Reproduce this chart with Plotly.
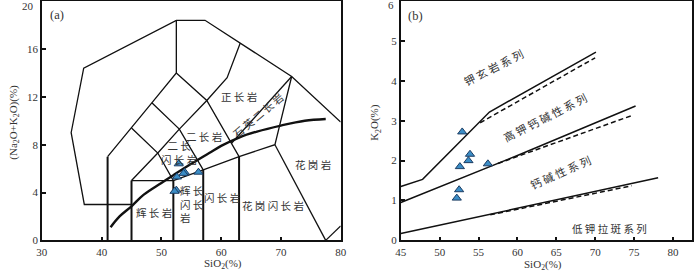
import plotly.graph_objects as go

# ---------------- data: panel (a) TAS plutonic (Middlemost) ----------------
outer_x = [45, 37.1, 34.9, 37.0, 52.5, 57.3, 71.8, 80.0]
outer_y = [3.0, 3.0, 9.0, 14.4, 18.4, 18.4, 13.7, 9.9]
outer2_x = [77.5, 80.0]
outer2_y = [0.0, 1.2]

v41_x, v41_y = [41, 41], [0, 7.0]
v45_x, v45_y = [45, 45], [0, 5.0]
v52_x, v52_y = [52, 52], [0, 5.0]
v57_x, v57_y = [57, 57], [0, 5.9]
v63_x, v63_y = [63, 63], [0, 7.0]

base_x = [45, 52, 57, 63, 69, 71.8]
base_y = [5.0, 5.0, 5.9, 7.0, 8.0, 13.7]
granite_x = [69, 77.5]
granite_y = [8.0, 0.0]
left_x = [41, 45, 48.4, 52.5, 52.5]
left_y = [7.0, 9.4, 11.5, 14.0, 18.4]
mg_x = [45, 49.4, 52]
mg_y = [9.4, 7.3, 5.0]
mid_x = [45, 49.4, 53, 57.6, 61.0, 63.2]
mid_y = [5.0, 7.3, 9.3, 11.7, 13.6, 16.5]
syen_x = [52.5, 57.6, 63]
syen_y = [14.0, 11.7, 7.0]
md_x = [48.4, 53, 57]
md_y = [11.5, 9.3, 5.9]
qm_x = [61.7, 71.8]
qm_y = [8.1, 13.7]

curve_x = [41.5, 43, 45, 47, 50, 52, 55, 58, 60, 63, 66, 70, 74, 77.5]
curve_y = [1.1, 2.0, 2.85, 3.8, 4.8, 5.45, 6.4, 7.3, 7.9, 8.6, 9.1, 9.6, 10.0, 10.15]

# samples
sio2 = [52.9, 53.9, 53.7, 52.6, 56.2, 52.5, 52.2]
alk = [6.4, 5.7, 5.6, 5.3, 5.7, 4.2, 4.1]
k2o = [2.72, 2.16, 2.00, 1.85, 1.92, 1.27, 1.06]

# ---------------- data: panel (b) K2O-SiO2 ----------------
sho_x, sho_y = [45, 47.8, 56.4, 70.1], [1.35, 1.53, 3.22, 4.72]
hk_x, hk_y = [45, 60, 75.2], [0.95, 2.13, 3.37]
lk_x, lk_y = [45, 78.1], [0.17, 1.57]
d1_x, d1_y = [55.2, 70.0], [2.95, 4.58]
d2_x, d2_y = [57.5, 74.7], [1.93, 3.13]
d3_x, d3_y = [56.5, 74.7], [0.64, 1.37]

ax_a_xticks = [30, 40, 50, 60, 70, 80]
ax_a_yticks = [0, 4, 8, 12, 16]
ax_a_ytop = "20"
ax_b_xticks = [45, 50, 55, 60, 65, 70, 75, 80]
ax_b_yticks = [0, 1, 2, 3, 4, 5]
ax_b_ytop = "6"

SERIF = "Liberation Serif"
CJK = "Noto Sans CJK SC"
TXT = "#333333"

fig = go.Figure()


def line(x, y, xa="x", ya="y", w=1.3, dash="solid", shape="linear"):
    fig.add_trace(go.Scatter(x=x, y=y, mode="lines", xaxis=xa, yaxis=ya,
                             line=dict(color="#111111", width=w, dash=dash, shape=shape),
                             hoverinfo="skip", showlegend=False))


# panel (a)
for xs, ys in [(outer_x, outer_y), (outer2_x, outer2_y), (base_x, base_y),
               (granite_x, granite_y), (left_x, left_y), (mg_x, mg_y), (mid_x, mid_y),
               (syen_x, syen_y), (md_x, md_y), (qm_x, qm_y)]:
    line(xs, ys)
for xs, ys in [(v41_x, v41_y), (v45_x, v45_y), (v52_x, v52_y), (v57_x, v57_y), (v63_x, v63_y)]:
    line(xs, ys, w=2.0)
line(curve_x, curve_y, w=2.4, shape="spline")

marker = dict(symbol="triangle-up", size=8, color="#3b8dc6",
              line=dict(color="#1c3d63", width=1))
fig.add_trace(go.Scatter(x=sio2, y=alk, mode="markers", marker=marker,
                         xaxis="x", yaxis="y", showlegend=False))

# panel (b)
for xs, ys in [(sho_x, sho_y), (hk_x, hk_y), (lk_x, lk_y)]:
    line(xs, ys, "x2", "y2", w=1.5)
for xs, ys in [(d1_x, d1_y), (d2_x, d2_y), (d3_x, d3_y)]:
    line(xs, ys, "x2", "y2", w=1.5, dash="5px,3px")
fig.add_trace(go.Scatter(x=sio2, y=k2o, mode="markers", marker=marker,
                         xaxis="x2", yaxis="y2", showlegend=False))

ann = []


def label(text, x, y, xr="x", yr="y", size=10.5, angle=0, font=CJK, xanchor="center", align="center"):
    ann.append(dict(text=text, x=x, y=y, xref=xr, yref=yr, showarrow=False,
                    textangle=angle, xanchor=xanchor, yanchor="middle", align=align,
                    font=dict(family=font, size=size, color=TXT)))


label("(a)", 32.5, 18.86, font=SERIF, size=12.5)
label("正 长 岩", 63.0, 12.0)
label("石 英 二 长 岩", 66.1, 10.45, angle=-40)
label("二 长 岩", 57.2, 8.72)
label("二 长<br>闪 长 岩", 52.94, 7.33)
label("辉 长 岩", 48.83, 2.37)
label("辉 长<br>闪 长<br>岩", 52.75, 3.04, xanchor="left", align="left")
label("闪 长 岩", 60.2, 3.6)
label("花 岗 闪 长 岩", 68.73, 2.94)
label("花 岗 岩", 75.36, 6.33)

label("(b)", 46.9, 5.64, "x2", "y2", font=SERIF, size=12.5)
label("钾 玄 岩 系 列", 56.95, 4.35, "x2", "y2", size=11, angle=-27)
label("高 钾 钙 碱 性 系 列", 63.55, 3.09, "x2", "y2", size=11, angle=-27)
label("钙 碱 性 系 列", 65.54, 1.71, "x2", "y2", size=11, angle=-24)
label("低 钾 拉 斑 系 列", 71.83, 0.30, "x2", "y2", size=10.5)

# axis titles and top tick labels
tfont = dict(family=SERIF, size=11, color=TXT)


def ptitle(text, px, py, angle=0):
    ann.append(dict(text=text, x=px / 700, y=1 - py / 276, xref="paper", yref="paper",
                    xanchor="center", yanchor="middle", showarrow=False,
                    textangle=angle, font=tfont))


ptitle("SiO<sub>2</sub>(%)", 221, 269.5)
ptitle("SiO<sub>2</sub>(%)", 546, 270.5)
ptitle("(Na<sub>2</sub>O+K<sub>2</sub>O)(%)", 8.5, 125, -90)
ptitle("K<sub>2</sub>O(%)", 376, 125, -90)

ann.append(dict(text=ax_a_ytop, x=0, xref="x domain", y=20, yref="y", xanchor="right",
                yanchor="middle", xshift=-6, yshift=-4.5, showarrow=False, font=tfont))
ann.append(dict(text=ax_b_ytop, x=0, xref="x2 domain", y=6, yref="y2", xanchor="right",
                yanchor="middle", xshift=-5, yshift=-3.5, showarrow=False, font=tfont))

ydom = [30.3 / 276, 1 - 1.2 / 276]
axcommon = dict(showgrid=False, zeroline=False, showline=True, mirror=True,
                linecolor="#111111", linewidth=1.5, ticks="inside", ticklen=4,
                tickwidth=1.5, tickcolor="#111111", tickfont=tfont)

fig.update_layout(
    width=700, height=276,
    margin=dict(l=0, r=0, t=0, b=0),
    paper_bgcolor="white", plot_bgcolor="white",
    showlegend=False,
    xaxis=dict(domain=[36.5 / 700, 340.5 / 700], range=[30, 80], tickvals=ax_a_xticks, anchor="y",
               ticklabelstandoff=1, **axcommon),
    yaxis=dict(domain=ydom, range=[0, 20], tickvals=ax_a_yticks, anchor="x", **axcommon),
    xaxis2=dict(domain=[401.7 / 700, 698.3 / 700], range=[45, 82.5], tickvals=ax_b_xticks, anchor="y2",
                ticklabelstandoff=1, **axcommon),
    yaxis2=dict(domain=ydom, range=[0, 6], tickvals=ax_b_yticks, anchor="x2", **axcommon),
    annotations=ann,
)

fig.write_html("out.html", config={"displayModeBar": False},
               post_script="document.body.style.margin='0';document.body.style.padding='0';")
